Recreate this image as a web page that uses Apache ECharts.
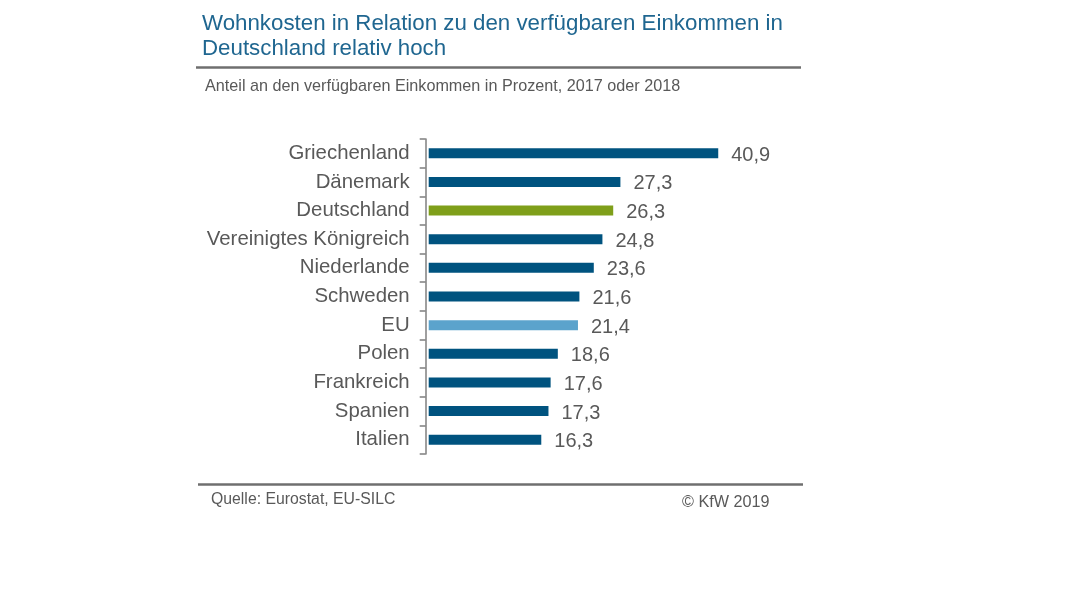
<!DOCTYPE html>
<html>
<head>
<meta charset="utf-8">
<title>Wohnkosten</title>
<script src="https://cdn.jsdelivr.net/npm/echarts@6/dist/echarts.min.js"></script>
<style>
html,body{margin:0;padding:0;background:#fff;}
#pic0{width:1080px;height:608px;}
</style>
</head>
<body>
<div id="pic0"></div>
<script>
var laender=['Griechenland','Dänemark','Deutschland','Vereinigtes Königreich','Niederlande','Schweden','EU','Polen','Frankreich','Spanien','Italien'];
var anteile=[40.9,27.3,26.3,24.8,23.6,21.6,21.4,18.6,17.6,17.3,16.3];
var farben=['#00537f','#00537f','#7f9f1a','#00537f','#00537f','#00537f','#5ba3cc','#00537f','#00537f','#00537f','#00537f'];

var myChart=echarts.init(document.getElementById('pic0'));
var schrift='"Liberation Sans"';

var option={
    animation:false,
    backgroundColor:'#fff',
    title:[
        {text:'Wohnkosten in Relation zu den verfügbaren Einkommen in\nDeutschland relativ hoch',left:197,top:6,
         textStyle:{color:'#1f6690',fontFamily:schrift,fontSize:22.3,fontWeight:'normal',lineHeight:25}},
        {text:'Anteil an den verfügbaren Einkommen in Prozent, 2017 oder 2018',left:200,top:74,
         textStyle:{color:'#595959',fontFamily:schrift,fontSize:16.2,fontWeight:'normal'}},
        {text:'Quelle: Eurostat, EU-SILC',left:206,top:487,
         textStyle:{color:'#595959',fontFamily:schrift,fontSize:15.8,fontWeight:'normal'}},
        {text:'© KfW 2019',left:677,top:490,
         textStyle:{color:'#595959',fontFamily:schrift,fontSize:16.2,fontWeight:'normal'}}
    ],
    grid:{left:428.7,top:139,width:355,height:315},
    // im Original beginnt der Balken erst kurz nach dem Nullpunkt
    xAxis:{type:'value',min:0.65,max:50,show:false},
    yAxis:{
        type:'category',
        inverse:true,
        offset:3,
        data:laender,
        axisLine:{lineStyle:{color:'#7f7f7f',width:1.5}},
        axisTick:{show:true,length:6,lineStyle:{color:'#7f7f7f',width:1.5}},
        axisLabel:{color:'#595959',fontFamily:schrift,fontSize:20.4,margin:16,padding:[2,0,0,0]}
    },
    series:[{
        type:'bar',
        clip:true,
        data:anteile.map(function(v,i){return {value:v,itemStyle:{color:farben[i]}};}),
        barWidth:10,
        label:{
            show:true,
            position:'right',
            distance:13,
            offset:[0,2],
            color:'#595959',
            fontFamily:schrift,
            fontSize:20,
            formatter:function(p){return String(p.value.toFixed(1)).replace('.',',');}
        }
    }],
    graphic:[
        {type:'line',shape:{x1:196,y1:67.5,x2:801,y2:67.5},style:{stroke:'#6f6f6f',lineWidth:2.5}},
        {type:'line',shape:{x1:198,y1:484.5,x2:803,y2:484.5},style:{stroke:'#6f6f6f',lineWidth:2.5}}
    ]
};
myChart.setOption(option);
</script>
</body>
</html>
